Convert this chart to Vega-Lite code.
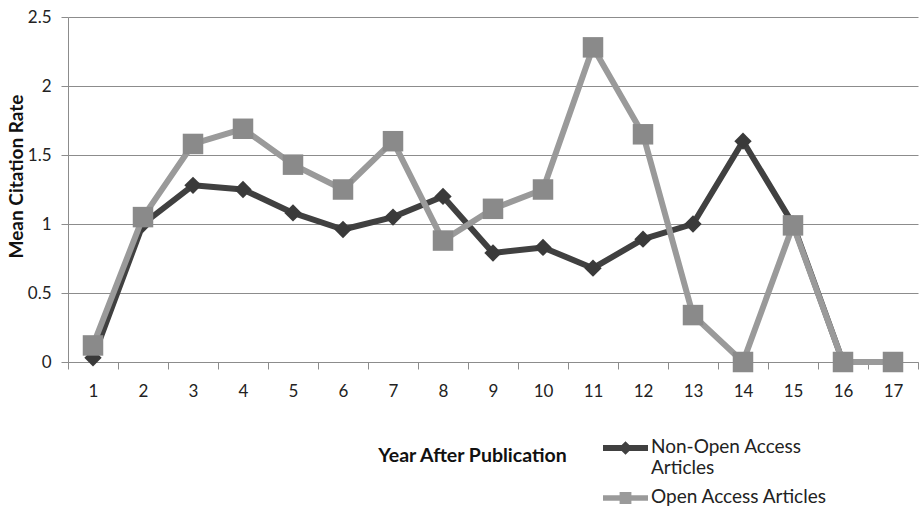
{
  "$schema": "https://vega.github.io/schema/vega-lite/v6.json",
  "autosize": "none",
  "width": 850,
  "height": 345,
  "padding": {"left": 68, "top": 17, "right": 1, "bottom": 146},
  "background": "white",
  "config": {
    "font": "Lato",
    "view": {"stroke": null},
    "axis": {"labelFont": "Lato", "titleFont": "Lato"},
    "legend": {"labelFont": "Lato"}
  },
  "data": {
    "values": [
      {"year": 1, "series": "Non-Open Access Articles", "rate": 0.03},
      {"year": 2, "series": "Non-Open Access Articles", "rate": 1.0},
      {"year": 3, "series": "Non-Open Access Articles", "rate": 1.28},
      {"year": 4, "series": "Non-Open Access Articles", "rate": 1.25},
      {"year": 5, "series": "Non-Open Access Articles", "rate": 1.08},
      {"year": 6, "series": "Non-Open Access Articles", "rate": 0.96},
      {"year": 7, "series": "Non-Open Access Articles", "rate": 1.05},
      {"year": 8, "series": "Non-Open Access Articles", "rate": 1.2},
      {"year": 9, "series": "Non-Open Access Articles", "rate": 0.79},
      {"year": 10, "series": "Non-Open Access Articles", "rate": 0.83},
      {"year": 11, "series": "Non-Open Access Articles", "rate": 0.68},
      {"year": 12, "series": "Non-Open Access Articles", "rate": 0.89},
      {"year": 13, "series": "Non-Open Access Articles", "rate": 1.0},
      {"year": 14, "series": "Non-Open Access Articles", "rate": 1.6},
      {"year": 15, "series": "Non-Open Access Articles", "rate": 1.0},
      {"year": 16, "series": "Non-Open Access Articles", "rate": 0},
      {"year": 17, "series": "Non-Open Access Articles", "rate": 0},
      {"year": 1, "series": "Open Access Articles", "rate": 0.12},
      {"year": 2, "series": "Open Access Articles", "rate": 1.05},
      {"year": 3, "series": "Open Access Articles", "rate": 1.58},
      {"year": 4, "series": "Open Access Articles", "rate": 1.69},
      {"year": 5, "series": "Open Access Articles", "rate": 1.43},
      {"year": 6, "series": "Open Access Articles", "rate": 1.25},
      {"year": 7, "series": "Open Access Articles", "rate": 1.6},
      {"year": 8, "series": "Open Access Articles", "rate": 0.88},
      {"year": 9, "series": "Open Access Articles", "rate": 1.11},
      {"year": 10, "series": "Open Access Articles", "rate": 1.25},
      {"year": 11, "series": "Open Access Articles", "rate": 2.28},
      {"year": 12, "series": "Open Access Articles", "rate": 1.65},
      {"year": 13, "series": "Open Access Articles", "rate": 0.34},
      {"year": 14, "series": "Open Access Articles", "rate": 0},
      {"year": 15, "series": "Open Access Articles", "rate": 0.99},
      {"year": 16, "series": "Open Access Articles", "rate": 0},
      {"year": 17, "series": "Open Access Articles", "rate": 0}
    ]
  },
  "encoding": {
    "x": {
      "field": "year",
      "type": "ordinal",
      "bandPosition": 0.5,
      "scale": {"type": "band", "paddingInner": 0, "paddingOuter": 0},
      "axis": {
        "title": "Year After Publication",
        "titleFontSize": 19.5,
        "titleFontWeight": "bold",
        "titleColor": "#111",
        "titleX": 404,
        "titleY": 93,
        "titleBaseline": "middle",
        "labelAngle": 0,
        "labelFontSize": 17,
        "labelColor": "#222",
        "labelPadding": 14,
        "tickBand": "extent",
        "tickSize": 7,
        "tickColor": "#8c8c8c",
        "domainColor": "#8c8c8c",
        "grid": false
      }
    },
    "y": {
      "field": "rate",
      "type": "quantitative",
      "scale": {"domain": [0, 2.5], "nice": false},
      "axis": {
        "title": "Mean Citation Rate",
        "titleFontSize": 19,
        "titleFontWeight": "bold",
        "titleColor": "#111",
        "titleX": -52,
        "titleY": 159,
        "titleAngle": -90,
        "titleAlign": "center",
        "titleBaseline": "middle",
        "values": [0, 0.5, 1, 1.5, 2, 2.5],
        "format": "~g",
        "labelFontSize": 17,
        "labelColor": "#222",
        "labelPadding": 10,
        "tickSize": 7,
        "tickColor": "#8c8c8c",
        "domainColor": "#8c8c8c",
        "gridColor": "#8c8c8c",
        "grid": true
      }
    }
  },
  "layer": [
    {
      "mark": {"type": "point", "filled": true, "opacity": 0, "size": 1},
      "encoding": {
        "shape": {
          "field": "series",
          "type": "nominal",
          "scale": {
            "domain": ["Non-Open Access Articles", "Open Access Articles"],
            "range": [
              "M-2.25,0.71L-0.38,0.71L0,0.32L0.38,0.71L2.25,0.71L2.25,1.29L0.38,1.29L0,1.68L-0.38,1.29L-2.25,1.29Z",
              "M-2.25,0.73L-0.59,0.73L-0.59,0.41L0.59,0.41L0.59,0.73L2.25,0.73L2.25,1.27L0.59,1.27L0.59,1.59L-0.59,1.59L-0.59,1.27L-2.25,1.27Z"
            ]
          },
          "legend": {
            "title": null,
            "orient": "none",
            "legendX": 547.5,
            "legendY": 411,
            "symbolSize": 400,
            "symbolOpacity": 1,
            "symbolStrokeWidth": 0,
            "labelFontSize": 19,
            "labelColor": "#222",
            "labelOffset": 15.5,
            "labelBaseline": "top",
            "labelLimit": 300,
            "rowPadding": 0,
            "padding": 0,
            "labelExpr": "datum.label == 'Non-Open Access Articles' ? ['Non-Open Access', 'Articles'] : datum.label"
          }
        },
        "color": {
          "field": "series",
          "type": "nominal",
          "scale": {
            "domain": ["Non-Open Access Articles", "Open Access Articles"],
            "range": ["#404040", "#9a9a9a"]
          }
        }
      }
    },
    {
      "transform": [{"filter": "datum.series == 'Non-Open Access Articles'"}],
      "mark": {"type": "line", "color": "#404040", "strokeWidth": 6, "strokeJoin": "round"}
    },
    {
      "transform": [{"filter": "datum.series == 'Non-Open Access Articles'"}],
      "mark": {"type": "point", "shape": "diamond", "filled": true, "color": "#3a3a3a", "size": 300, "opacity": 1}
    },
    {
      "transform": [{"filter": "datum.series == 'Open Access Articles'"}],
      "mark": {"type": "line", "color": "#9a9a9a", "strokeWidth": 6, "strokeJoin": "round"}
    },
    {
      "transform": [{"filter": "datum.series == 'Open Access Articles'"}],
      "mark": {"type": "point", "shape": "square", "filled": true, "color": "#8a8a8a", "size": 420, "opacity": 1}
    }
  ]
}
